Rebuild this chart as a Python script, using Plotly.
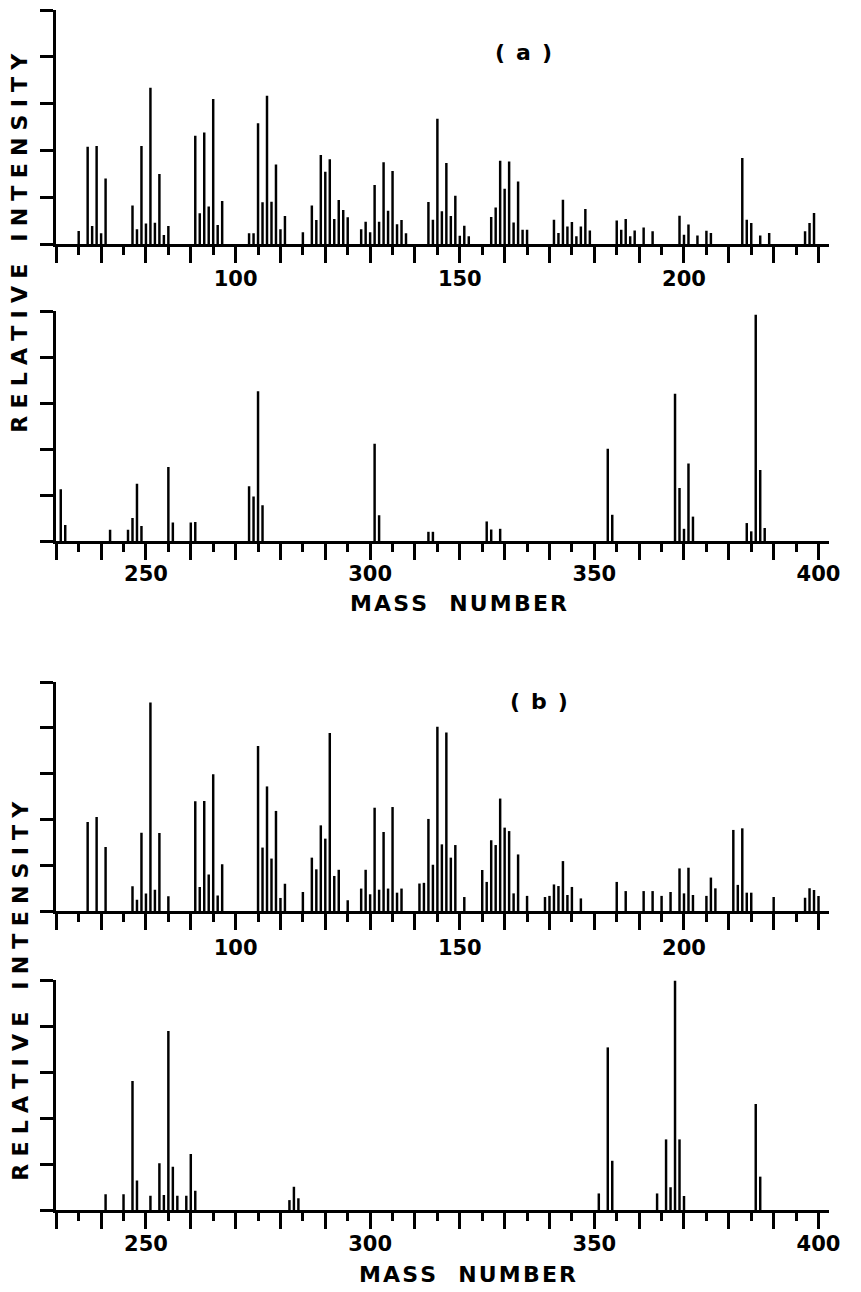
import plotly.graph_objects as go

# ---------------- data (mass number, relative intensity %) ----------------
a_upper_mass = [65, 67, 68, 69, 70, 71, 77, 78, 79, 80, 81, 82, 83, 84, 85,
                91, 92, 93, 94, 95, 96, 97, 103, 104, 105, 106, 107, 108, 109, 110, 111,
                115, 117, 118, 119, 120, 121, 122, 123, 124, 125,
                128, 129, 130, 131, 132, 133, 134, 135, 136, 137, 138,
                143, 144, 145, 146, 147, 148, 149, 150, 151, 152,
                157, 158, 159, 160, 161, 162, 163, 164, 165,
                171, 172, 173, 174, 175, 176, 177, 178, 179,
                185, 186, 187, 188, 189, 191, 193,
                199, 200, 201, 203, 205, 206,
                213, 214, 215, 217, 219, 227, 228, 229]
a_upper_int = [5.6, 41.6, 7.7, 41.9, 4.6, 28, 16.4, 6.3, 41.9, 8.8, 66.8, 9.1, 29.9, 3.8, 7.7,
               46.3, 13.1, 47.7, 16, 62, 8.1, 18.4, 4.6, 4.6, 51.6, 17.8, 63.4, 18.1, 34, 6.3, 12,
               5, 16.4, 10.3, 38, 30.9, 36.2, 10.7, 18.8, 14.5, 11.4,
               6.3, 9.5, 5, 25.2, 9.5, 34.9, 14.2, 31.2, 8.4, 10.3, 4.6,
               17.9, 10.4, 53.5, 14, 34.6, 12, 20.6, 3.5, 7.8, 3.3,
               11.5, 15.6, 35.6, 23.6, 35.3, 9.2, 26.7, 6.1, 6.1,
               10.4, 4.7, 18.9, 7.5, 9.4, 3.3, 7.5, 15, 5.8,
               10, 6.1, 10.7, 3.3, 5.8, 7.1, 5.4,
               12.1, 4, 8.3, 3.6, 5.7, 4.7,
               36.7, 10.4, 9, 3.6, 4.7, 5.4, 9, 13.2]

a_lower_mass = [231, 232, 242, 246, 247, 248, 249, 255, 256, 260, 261,
                273, 274, 275, 276, 301, 302, 313, 314, 326, 327, 329,
                353, 354, 368, 369, 370, 371, 372, 384, 385, 386, 387, 388]
a_lower_int = [22.5, 7, 4.9, 4.9, 10, 24.9, 6.5, 32.2, 8, 8, 8.3,
               23.8, 19.4, 65.1, 15.5, 42.3, 11.2, 4, 4, 8.5, 5, 5.3,
               40.1, 11.4, 64, 23, 5.3, 33.7, 10.6, 7.8, 4.2, 98.4, 30.9, 5.6]

b_upper_mass = [67, 69, 71, 77, 78, 79, 80, 81, 82, 83, 85,
                91, 92, 93, 94, 95, 96, 97, 105, 106, 107, 108, 109, 110, 111,
                115, 117, 118, 119, 120, 121, 122, 123, 125,
                128, 129, 130, 131, 132, 133, 134, 135, 136, 137,
                141, 142, 143, 144, 145, 146, 147, 148, 149, 151,
                155, 156, 157, 158, 159, 160, 161, 162, 163, 165,
                169, 170, 171, 172, 173, 174, 175, 177,
                185, 187, 191, 193, 195, 197, 199, 200, 201, 202, 205, 206, 207,
                211, 212, 213, 214, 215, 220, 227, 228, 229, 230]
b_upper_int = [38.9, 41, 27.9, 10.8, 4.9, 34.2, 7.6, 91, 9.3, 34.1, 6.4,
               47.9, 10.5, 48, 15.9, 59.7, 6.8, 20.4, 72, 27.7, 54.4, 22.9, 43.7, 5.7, 11.9,
               8.3, 23.3, 18.2, 37.4, 31.6, 77.7, 15.3, 18, 4.7,
               9.8, 18, 7.3, 45.1, 9.3, 34.5, 9.8, 45.4, 8, 9.8,
               12, 12.3, 40.2, 20.2, 80.5, 29.1, 77.9, 23.3, 28.8, 6.1,
               17.9, 12.7, 30.9, 28.8, 49.1, 36.4, 34.9, 7.7, 24.7, 6.6,
               6.1, 6.6, 11.6, 10.9, 21.8, 7, 10.5, 5.5,
               12.7, 8.7, 8.7, 8.7, 6.6, 8.3, 18.6, 7.7, 18.9, 7, 6.6, 14.6, 9.9,
               35.4, 11.4, 36.1, 8, 8, 6.1, 5.8, 9.9, 9.2, 6.6]

b_lower_mass = [241, 245, 247, 248, 251, 253, 254, 255, 256, 257, 259, 260, 261,
                282, 283, 284, 351, 353, 354, 364, 366, 367, 368, 369, 370, 386, 387]
b_lower_int = [6.8, 6.8, 56.1, 12.8, 6.2, 20.3, 6.5, 77.8, 18.8, 6.2, 6.2, 24.3, 8.4,
               4.3, 10.1, 5.1, 7.2, 70.7, 21.4, 7.2, 30.7, 9.9, 99.7, 30.7, 6.1, 46.1, 14.5]

upper_tick_vals = [60, 70, 80, 90, 100, 110, 120, 130, 140, 150, 160, 170, 180, 190, 200, 210, 220, 230]
upper_tick_text = ["", "", "", "", "100", "", "", "", "", "150", "", "", "", "", "200", "", "", ""]
lower_tick_vals = [230, 240, 250, 260, 270, 280, 290, 300, 310, 320, 330, 340, 350, 360, 370, 380, 390, 400]
lower_tick_text = ["", "", "250", "", "", "", "", "300", "", "", "", "", "350", "", "", "", "", "400"]
y_tick_vals = [0, 20, 40, 60, 80, 100]

y_title = "RELATIVE INTENSITY"
x_title = "MASS NUMBER"
panel_labels = ["( a )", "( b )"]

# ---------------- layout helpers ----------------
W, H = 861, 1292
FONT = "DejaVu Sans"


def spaced(text, gap, wordgap):
    return wordgap.join(gap.join(w) for w in text.split(" "))


panels = [
    # mass, intensity, x range, top px, baseline px, tick vals, tick text, label standoff
    (a_upper_mass, a_upper_int, [60, 232.4], 10, 244, upper_tick_vals, upper_tick_text, -2),
    (a_lower_mass, a_lower_int, [230, 402.4], 311, 541, lower_tick_vals, lower_tick_text, -4),
    (b_upper_mass, b_upper_int, [60, 232.4], 682, 911, upper_tick_vals, upper_tick_text, 0),
    (b_lower_mass, b_lower_int, [230, 402.4], 980, 1210, lower_tick_vals, lower_tick_text, -3),
]

fig = go.Figure()
layout_axes = {}
for i, (mass, inten, rng, top, base, tv, tt, so) in enumerate(panels, start=1):
    xa = "x" if i == 1 else f"x{i}"
    ya = "y" if i == 1 else f"y{i}"
    fig.add_trace(go.Bar(
        x=mass, y=inten, width=0.55,
        marker=dict(color="black", line=dict(width=0)),
        xaxis=xa, yaxis=ya, showlegend=False, hoverinfo="skip",
    ))
    layout_axes["xaxis" if i == 1 else f"xaxis{i}"] = dict(
        domain=[57 / W, 840 / W], range=rng, anchor=ya,
        showline=True, linecolor="black", linewidth=3,
        ticks="outside", ticklen=16, tickwidth=2.5, tickcolor="black",
        tickmode="array", tickvals=tv, ticktext=tt,
        tickfont=dict(family=FONT, size=21, color="black", weight="bold"),
        ticklabelstandoff=so,
        minor=dict(dtick=5, tick0=0, ticks="outside", ticklen=8, tickwidth=2.5,
                   tickcolor="black", showgrid=False),
        showgrid=False, zeroline=False, fixedrange=True,
    )
    layout_axes["yaxis" if i == 1 else f"yaxis{i}"] = dict(
        domain=[1 - base / H, 1 - top / H], range=[0, 100], anchor=xa,
        showline=True, linecolor="black", linewidth=3,
        ticks="outside", ticklen=13, tickwidth=2.5, tickcolor="black",
        tickmode="array", tickvals=y_tick_vals, showticklabels=False,
        showgrid=False, zeroline=False, fixedrange=True,
    )

ylab = spaced(y_title, "\u2004", "\u2003")
xlab = spaced(x_title, "\u200a", "\u2003")

annotations = []
for (cy, mx, my, lx, ly, lab) in [(243, 464, 603, 530, 52, panel_labels[0]),
                                  (991, 474, 1274, 546, 701, panel_labels[1])]:
    annotations.append(dict(x=20 / W, y=1 - cy / H, xref="paper", yref="paper",
                            text=ylab, textangle=-90, showarrow=False,
                            xanchor="center", yanchor="middle",
                            font=dict(family=FONT, size=22, color="black", weight="bold")))
    annotations.append(dict(x=mx / W, y=1 - my / H, xref="paper", yref="paper",
                            text=xlab, showarrow=False, xanchor="center", yanchor="middle",
                            font=dict(family=FONT, size=22, color="black", weight="bold")))
    annotations.append(dict(x=lx / W, y=1 - ly / H, xref="paper", yref="paper",
                            text=lab.replace(" ", "\u2002"), showarrow=False,
                            xanchor="center", yanchor="middle",
                            font=dict(family=FONT, size=22, color="black", weight="bold")))

fig.update_layout(
    width=W, height=H,
    margin=dict(l=0, r=0, t=0, b=0),
    paper_bgcolor="white", plot_bgcolor="white",
    barmode="overlay",
    annotations=annotations,
    **layout_axes,
)

fig.write_html("out.html", config={"displayModeBar": False})
